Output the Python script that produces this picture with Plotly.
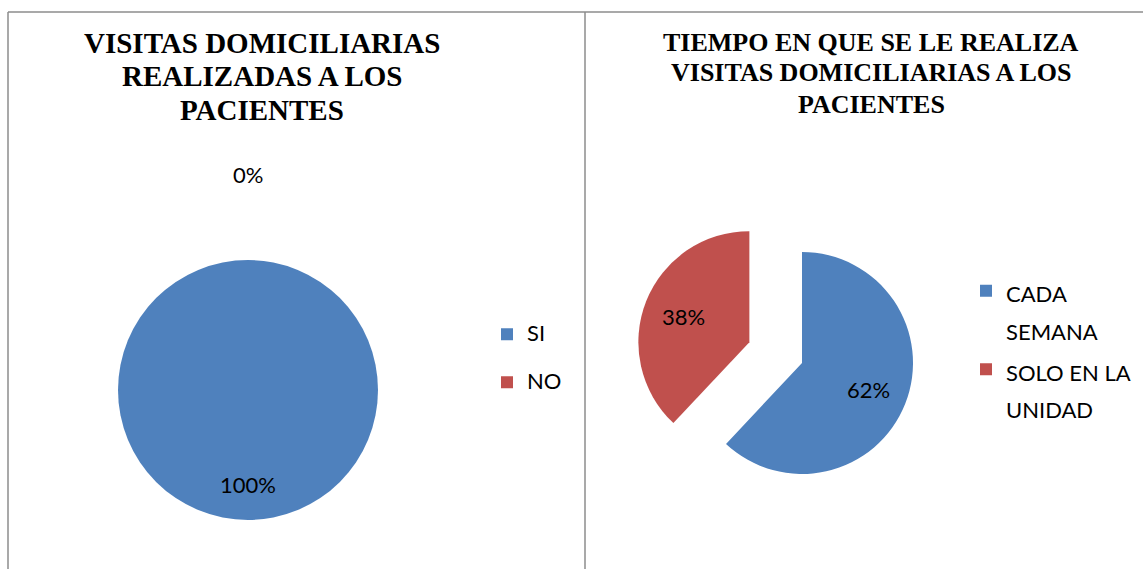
import math
import plotly.graph_objects as go

W, H = 1143, 569

# ---------------- data ----------------
pie1_labels = ["SI", "NO"]
pie1_values = [100, 0]
pie1_title = ["VISITAS DOMICILIARIAS", "REALIZADAS A LOS", "PACIENTES"]

pie2_labels = ["CADA<br>SEMANA", "SOLO EN LA<br>UNIDAD"]
pie2_values = [62, 38]
pie2_title = ["TIEMPO EN QUE SE LE REALIZA", "VISITAS DOMICILIARIAS A LOS", "PACIENTES"]

colors = ["#4F81BD", "#C0504D"]

LABEL_FONT = "Lato"
TITLE_FONT = "Liberation Serif"
TEXT_SIZE = 22


def fx(x):
    return x / W


def fy(y):
    return 1 - y / H


def domain(cx, cy, r, pulls):
    half = r * (1 + max(pulls))
    return dict(x=[fx(cx - half), fx(cx + half)], y=[fy(cy + half), fy(cy - half)])


def label_annots(values, cx, cy, r, pulls, k_in, k_out):
    total = sum(values)
    cum = 0.0
    out = []
    for v, p in zip(values, pulls):
        frac = v / total
        mid = (cum + frac / 2) * 2 * math.pi
        cum += frac
        ox = cx + p * r * math.sin(mid)
        oy = cy - p * r * math.cos(mid)
        k = k_in if frac > 0 else k_out
        x = ox + k * r * math.sin(mid)
        y = oy - k * r * math.cos(mid)
        out.append(dict(x=fx(x), y=fy(y), xref="paper", yref="paper",
                        text=f"{frac * 100:.0f}%", showarrow=False,
                        xanchor="center", yanchor="middle",
                        font=dict(family=LABEL_FONT, size=TEXT_SIZE, color="black")))
    return out


def title_annots(lines, cx, y0, dy, size):
    return [dict(x=fx(cx), y=fy(y0 + i * dy), xref="paper", yref="paper",
                 text=t, showarrow=False, xanchor="center", yanchor="middle",
                 font=dict(family=TITLE_FONT, size=size, color="black", weight="bold"))
            for i, t in enumerate(lines)]


def legend_text(label, extra_line=False):
    lines = [f"<span style='font-size:{TEXT_SIZE}px'>{ln}</span>" for ln in label.split("<br>")]
    txt = "<br>".join(lines)
    if extra_line:
        txt += "<br>"
    return txt


# geometry (pixels)
p1 = dict(cx=248, cy=390, r=130, pulls=[0, 0])
p2 = dict(cx=802, cy=363, r=111, pulls=[0, 0.51])

fig = go.Figure()
fig.add_trace(go.Pie(
    labels=[legend_text(l, extra_line=True) for l in pie1_labels], values=pie1_values,
    sort=False, direction="clockwise",
    rotation=0, marker=dict(colors=colors, line=dict(width=0)),
    textinfo="none", pull=p1["pulls"], hoverinfo="percent",
    domain=domain(p1["cx"], p1["cy"], p1["r"], p1["pulls"]),
    legend="legend",
))
fig.add_trace(go.Pie(
    labels=[legend_text(l) for l in pie2_labels], values=pie2_values,
    sort=False, direction="clockwise",
    rotation=0, marker=dict(colors=colors, line=dict(width=0)),
    textinfo="none", pull=p2["pulls"], hoverinfo="percent",
    domain=domain(p2["cx"], p2["cy"], p2["r"], p2["pulls"]),
    legend="legend2",
))

annots = []
annots += title_annots(pie1_title, 262, 43, 33.5, 29)
annots += title_annots(pie2_title, 871, 42, 31, 26)
annots += label_annots(pie1_values, p1["cx"], p1["cy"], p1["r"], p1["pulls"], 0.73, 1.66)
annots += label_annots(pie2_values, p2["cx"], p2["cy"], p2["r"], p2["pulls"], 0.64, 1.66)

border = dict(color="#8c8c8c", width=1.5)
shapes = [
    dict(type="line", xref="paper", yref="paper", x0=fx(8), x1=fx(8), y0=fy(12), y1=fy(H + 5), line=border),
    dict(type="line", xref="paper", yref="paper", x0=fx(8), x1=fx(W + 5), y0=fy(12), y1=fy(12), line=border),
    dict(type="line", xref="paper", yref="paper", x0=fx(585), x1=fx(585), y0=fy(12), y1=fy(H + 5), line=border),
]

fig.update_layout(
    width=W, height=H, autosize=False,
    margin=dict(l=0, r=0, t=0, b=0),
    paper_bgcolor="white", plot_bgcolor="white",
    annotations=annots, shapes=shapes,
    legend=dict(x=fx(487), y=fy(316.4), xanchor="left", yanchor="top",
                font=dict(family=LABEL_FONT, size=17.3, color="black"),
                valign="top", bgcolor="rgba(0,0,0,0)"),
    legend2=dict(x=fx(966), y=fy(265.5), xanchor="left", yanchor="top",
                 font=dict(family=LABEL_FONT, size=29, color="black"),
                 valign="top", bgcolor="rgba(0,0,0,0)"),
)

fig.write_html("out.html", config={"displayModeBar": False},
               post_script="document.body.style.margin='0';document.body.style.overflow='hidden';")
